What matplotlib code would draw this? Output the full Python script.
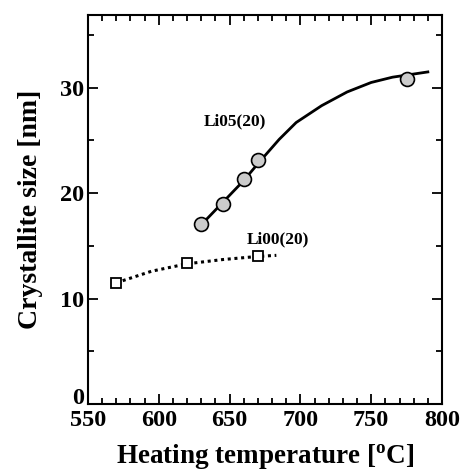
import matplotlib
matplotlib.use("Agg")
import matplotlib.pyplot as plt
from matplotlib.ticker import MultipleLocator

plt.rcParams['font.family'] = ['Liberation Serif', 'DejaVu Serif']
plt.rcParams['font.weight'] = 'bold'
plt.rcParams['mathtext.fontset'] = 'custom'
plt.rcParams['mathtext.rm'] = 'Liberation Serif:bold'

# measured points
li05_temp = [630, 645, 660, 670, 775]
li05_size = [17.1, 19.0, 21.3, 23.1, 30.8]
li00_temp = [570, 620, 670]
li00_size = [11.5, 13.4, 14.0]

# guide-to-the-eye curves
li05_fit_temp = [630, 645, 660, 670, 685, 697, 715, 733, 750, 765, 790]
li05_fit_size = [17.0, 19.1, 21.2, 22.8, 25.1, 26.7, 28.3, 29.6, 30.5, 31.0, 31.5]
li00_fit_temp = [570, 595, 620, 645, 670, 683]
li00_fit_size = [11.5, 12.6, 13.3, 13.7, 14.0, 14.1]

fig = plt.figure(figsize=(4.61, 4.72), dpi=100)
ax = fig.add_axes([88 / 461, 68 / 472, 354 / 461, 389 / 472])

ax.plot(li05_fit_temp, li05_fit_size, 'k-', lw=2, zorder=2)
ax.plot(li00_fit_temp, li00_fit_size, 'k', ls=(0, (1, 1.2)), lw=2.2, zorder=2)
ax.plot(li05_temp, li05_size, 'o', ms=10, mfc='#cccccc', mec='k', mew=1.2, zorder=3)
ax.plot(li00_temp, li00_size, 's', ms=7, mfc='white', mec='k', mew=1.3, zorder=3)

ax.text(632, 26.4, 'Li05(20)', fontsize=12.5, fontweight='bold')
ax.text(662, 15.2, 'Li00(20)', fontsize=12.5, fontweight='bold')

ax.set_xlim(550, 800)
ax.set_ylim(0, 36.9)
ax.xaxis.set_major_locator(MultipleLocator(50))
ax.xaxis.set_minor_locator(MultipleLocator(10))
ax.yaxis.set_major_locator(MultipleLocator(10))
ax.yaxis.set_minor_locator(MultipleLocator(5))
ax.tick_params(which='both', direction='in', top=True, right=True, width=1.3)
ax.tick_params(which='major', length=7, labelsize=17.5)
ax.tick_params(axis='x', which='major', pad=4.5)
ax.tick_params(axis='y', which='major', pad=3)
ax.tick_params(which='minor', length=4)
for lab in ax.get_xticklabels() + ax.get_yticklabels():
    lab.set_fontweight('bold')
for sp in ax.spines.values():
    sp.set_linewidth(1.5)

ax.set_xlabel(r'Heating temperature [$^{\rm o}$C]', fontsize=19.5, fontweight='bold', labelpad=8)
ax.set_ylabel('Crystallite size [nm]', fontsize=20, fontweight='bold', labelpad=12)

# the "0" sits on the axis line, above the x labels
fig.canvas.draw()
for tick in ax.yaxis.get_major_ticks():
    if abs(tick.get_loc()) < 1e-9:
        tick.label1.set_verticalalignment('baseline')

fig.savefig('out.png', dpi=100)
